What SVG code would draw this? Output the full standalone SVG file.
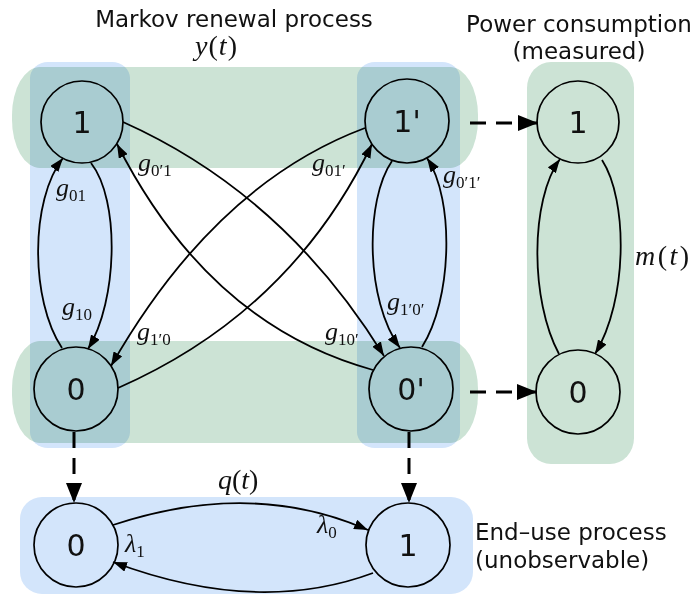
<svg xmlns="http://www.w3.org/2000/svg" width="698" height="596" viewBox="0 0 698 596">
<style>
.g{fill:#cce3d5;mix-blend-mode:multiply}
.b{fill:#d3e5fb;mix-blend-mode:multiply}
.node{fill:none;stroke:#000;stroke-width:1.7}
.nl{font-family:"DejaVu Sans",sans-serif;font-size:30px;text-anchor:middle;fill:#111}
.title{font-family:"DejaVu Sans",sans-serif;font-size:23px;fill:#111}
.e{fill:none;stroke:#000;stroke-width:1.8;marker-end:url(#ah)}
.d{fill:none;stroke:#000;stroke-width:3;stroke-dasharray:16 10;marker-end:url(#dh)}
.m{font-family:"Liberation Serif",serif;font-size:26px;font-style:italic;fill:#111}
.big{font-size:28px}
.s{font-size:17px;font-style:normal}
.u{font-style:normal}
</style>
<defs>
<marker id="ah" markerUnits="userSpaceOnUse" markerWidth="14" markerHeight="10" refX="14" refY="5" orient="auto">
<path d="M0,0 L14,5 L0,10 z" fill="#000"/>
</marker>
<marker id="dh" markerUnits="userSpaceOnUse" markerWidth="20" markerHeight="16" refX="20" refY="8" orient="auto">
<path d="M0,0 L20,8 L0,16 z" fill="#000"/>
</marker>
</defs>
<rect width="698" height="596" fill="#fff"/>
<g id="backgrounds">
<rect class="g" x="12" y="67" width="466" height="101" rx="28" ry="48"/>
<rect class="g" x="12" y="341" width="466" height="102" rx="28" ry="48"/>
<rect class="g" x="527" y="62" width="107" height="402" rx="24" ry="26"/>
<rect class="b" x="30" y="62" width="100" height="386" rx="18" ry="16"/>
<rect class="b" x="357" y="62" width="103" height="386" rx="18" ry="16"/>
<rect class="b" x="20" y="497" width="453" height="97" rx="22" ry="22"/>
</g>
<g id="titles">
<text class="title" x="234" y="27" text-anchor="middle">Markov renewal process</text>
<text class="m big" x="195" y="55" textLength="42">y<tspan class="u">(</tspan>t<tspan class="u">)</tspan></text>
<text class="title" x="579" y="32" text-anchor="middle">Power consumption</text>
<text class="title" x="579" y="59" text-anchor="middle">(measured)</text>
<text class="title" x="475" y="540">End–use process</text>
<text class="title" x="475" y="568">(unobservable)</text>
</g>
<g id="connectors">
<path class="e" d="M62,348 C30,300 30,200 63,158"/>
<path class="e" d="M91,163 C120,200 118,300 88,349"/>
<path class="e" d="M392,161 C365,200 365,300 400,348"/>
<path class="e" d="M422,347 C452,300 455,200 427,158"/>
<path class="e" d="M559,354 C530,300 530,200 560,159"/>
<path class="e" d="M602,160 C628,200 628,300 595,354"/>
<path class="e" d="M123,122 Q284,194 384,356"/>
<path class="e" d="M365,128 Q215,184 111,366"/>
<path class="e" d="M373,370 Q209,325 117,144"/>
<path class="e" d="M118,388 Q291,312 372,144"/>
<path class="e" d="M113,525 Q252,479 368,530"/>
<path class="e" d="M373,573 Q257,616 113,562"/>
<path class="d" d="M470,123 L538,123"/>
<path class="d" d="M470,392 L537,392"/>
<path class="d" d="M74,432 L74,503"/>
<path class="d" d="M409,432 L409,503"/>
<text class="m" x="56" y="196">g<tspan class="s" dy="5">01</tspan></text>
<text class="m" x="62" y="315">g<tspan class="s" dy="5">10</tspan></text>
<text class="m" x="138" y="171">g<tspan class="s" dy="5">0′1</tspan></text>
<text class="m" x="312" y="171">g<tspan class="s" dy="5">01′</tspan></text>
<text class="m" x="137" y="340">g<tspan class="s" dy="5">1′0</tspan></text>
<text class="m" x="325" y="340">g<tspan class="s" dy="5">10′</tspan></text>
<text class="m" x="443" y="183">g<tspan class="s" dy="5">0′1′</tspan></text>
<text class="m" x="387" y="310">g<tspan class="s" dy="5">1′0′</tspan></text>
<text class="m big" x="635" y="265" textLength="54">m<tspan class="u">(</tspan>t<tspan class="u">)</tspan></text>
<text class="m big" x="218" y="489">q<tspan class="u">(</tspan>t<tspan class="u">)</tspan></text>
<text class="m" x="317" y="533">λ<tspan class="s" dy="5">0</tspan></text>
<text class="m" x="125" y="552">λ<tspan class="s" dy="5">1</tspan></text>
</g>
<g id="node-1"><circle class="node" cx="82" cy="122" r="41"/><text class="nl" x="82" y="133">1</text></g>
<g id="node-0"><circle class="node" cx="76" cy="389" r="42"/><text class="nl" x="76" y="400">0</text></g>
<g id="node-1p"><circle class="node" cx="407" cy="121" r="42"/><text class="nl" x="407" y="132">1'</text></g>
<g id="node-0p"><circle class="node" cx="411" cy="389" r="42"/><text class="nl" x="411" y="400">0'</text></g>
<g id="power-1"><circle class="node" cx="578" cy="122" r="41"/><text class="nl" x="578" y="133">1</text></g>
<g id="power-0"><circle class="node" cx="578" cy="392" r="42"/><text class="nl" x="578" y="403">0</text></g>
<g id="enduse-0"><circle class="node" cx="76" cy="545" r="42"/><text class="nl" x="76" y="556">0</text></g>
<g id="enduse-1"><circle class="node" cx="408" cy="545" r="42"/><text class="nl" x="408" y="556">1</text></g>
</svg>
